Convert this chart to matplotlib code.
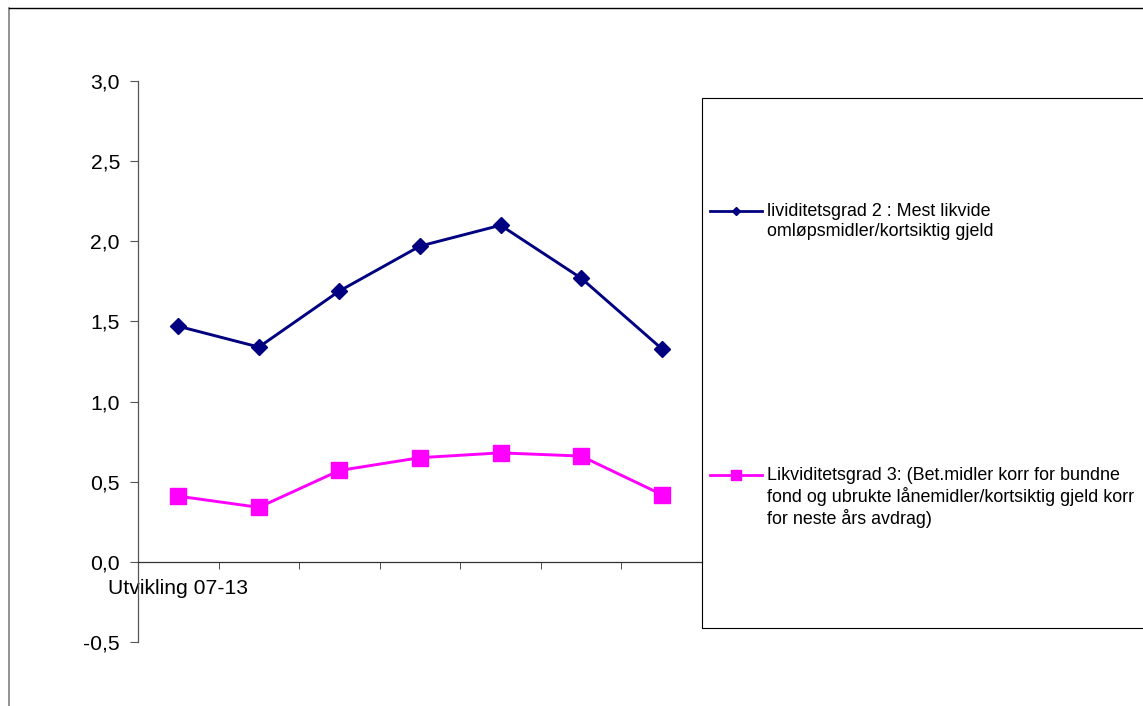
import matplotlib
matplotlib.use("Agg")
import matplotlib.pyplot as plt
from matplotlib.lines import Line2D
from matplotlib.patches import Rectangle
from matplotlib.ticker import FuncFormatter, FixedLocator

plt.rcParams.update({
    "font.family": ["Liberation Sans", "DejaVu Sans"],
    "font.size": 15.2,
})

# data
categories = ["Utvikling 07-13", "", "", "", "", "", ""]
grad2 = [1.47, 1.34, 1.69, 1.97, 2.10, 1.77, 1.33]
grad3 = [0.41, 0.34, 0.57, 0.65, 0.68, 0.66, 0.42]
label2 = "lividitetsgrad 2 : Mest likvide\nomløpsmidler/kortsiktig gjeld"
label3 = ("Likviditetsgrad 3: (Bet.midler korr for bundne\n"
          "fond og ubrukte lånemidler/kortsiktig gjeld korr\n"
          "for neste års avdrag)")
yticks = [-0.5, 0.0, 0.5, 1.0, 1.5, 2.0, 2.5, 3.0]

NAVY = "#000080"
PINK = "#FF00FF"

W, H = 1143, 706
fig = plt.figure(figsize=(W / 100, H / 100), dpi=100)

def fx(px): return px / W
def fy(py): return 1 - py / H

ax = fig.add_axes([fx(138), fy(642), (702 - 138) / W, (642 - 81) / H])
x = list(range(len(categories)))
ax.plot(x, grad2, "-D", color=NAVY, lw=2.1, ms=8, mec=NAVY, mfc=NAVY)
ax.plot(x, grad3, "-s", color=PINK, lw=2.1, ms=11, mec=PINK, mfc=PINK)

ax.set_xlim(-0.5, len(categories) - 0.5)
ax.set_ylim(-0.5, 3.0)
ax.set_yticks(yticks)
ax.yaxis.set_major_formatter(FuncFormatter(lambda v, p: f"{v:.1f}".replace(".", ",")))
ax.set_xticks(x)
ax.set_xticklabels(categories)
ax.xaxis.set_minor_locator(FixedLocator([i + 0.5 for i in x]))
ax.tick_params(axis="x", which="major", length=0, pad=12)
ax.tick_params(axis="x", which="minor", length=5, direction="out", color="#333333")
ax.tick_params(axis="y", length=6, direction="out", color="#555555", pad=7)

ax.spines["top"].set_visible(False)
ax.spines["right"].set_visible(False)
ax.spines["bottom"].set_position(("data", 0))
ax.spines["bottom"].set_color("#333333")
ax.spines["left"].set_color("#555555")
for s in ("bottom", "left"):
    ax.spines[s].set_linewidth(0.9)

# legend box drawn by hand so handles sit on first text line
fig.patches.append(Rectangle((fx(702), fy(628)), 0.5, (628 - 98) / H,
                             transform=fig.transFigure, fill=False,
                             edgecolor="black", lw=0.8))
fig.lines.append(Line2D([fx(710), fx(762)], [fy(211), fy(211)], transform=fig.transFigure,
                        color=NAVY, lw=2.0))
fig.lines.append(Line2D([fx(736)], [fy(211)], transform=fig.transFigure,
                        color=NAVY, marker="D", ms=4.5, ls="none"))
fig.text(fx(767), fy(203), label2, ha="left", va="top", fontsize=12.9)
fig.lines.append(Line2D([fx(710), fx(762)], [fy(475), fy(475)], transform=fig.transFigure,
                        color=PINK, lw=2.0))
fig.lines.append(Line2D([fx(736)], [fy(475)], transform=fig.transFigure,
                        color=PINK, marker="s", ms=7, ls="none"))
fig.text(fx(767), fy(467), label3, ha="left", va="top", fontsize=12.9)

# outer chart frame
fig.lines.append(Line2D([fx(9), fx(9)], [fy(8), 0], transform=fig.transFigure,
                        color="#808080", lw=1.2))
fig.lines.append(Line2D([fx(9), 1], [fy(8), fy(8)], transform=fig.transFigure,
                        color="black", lw=1.0))

fig.savefig("out.png", dpi=100)
